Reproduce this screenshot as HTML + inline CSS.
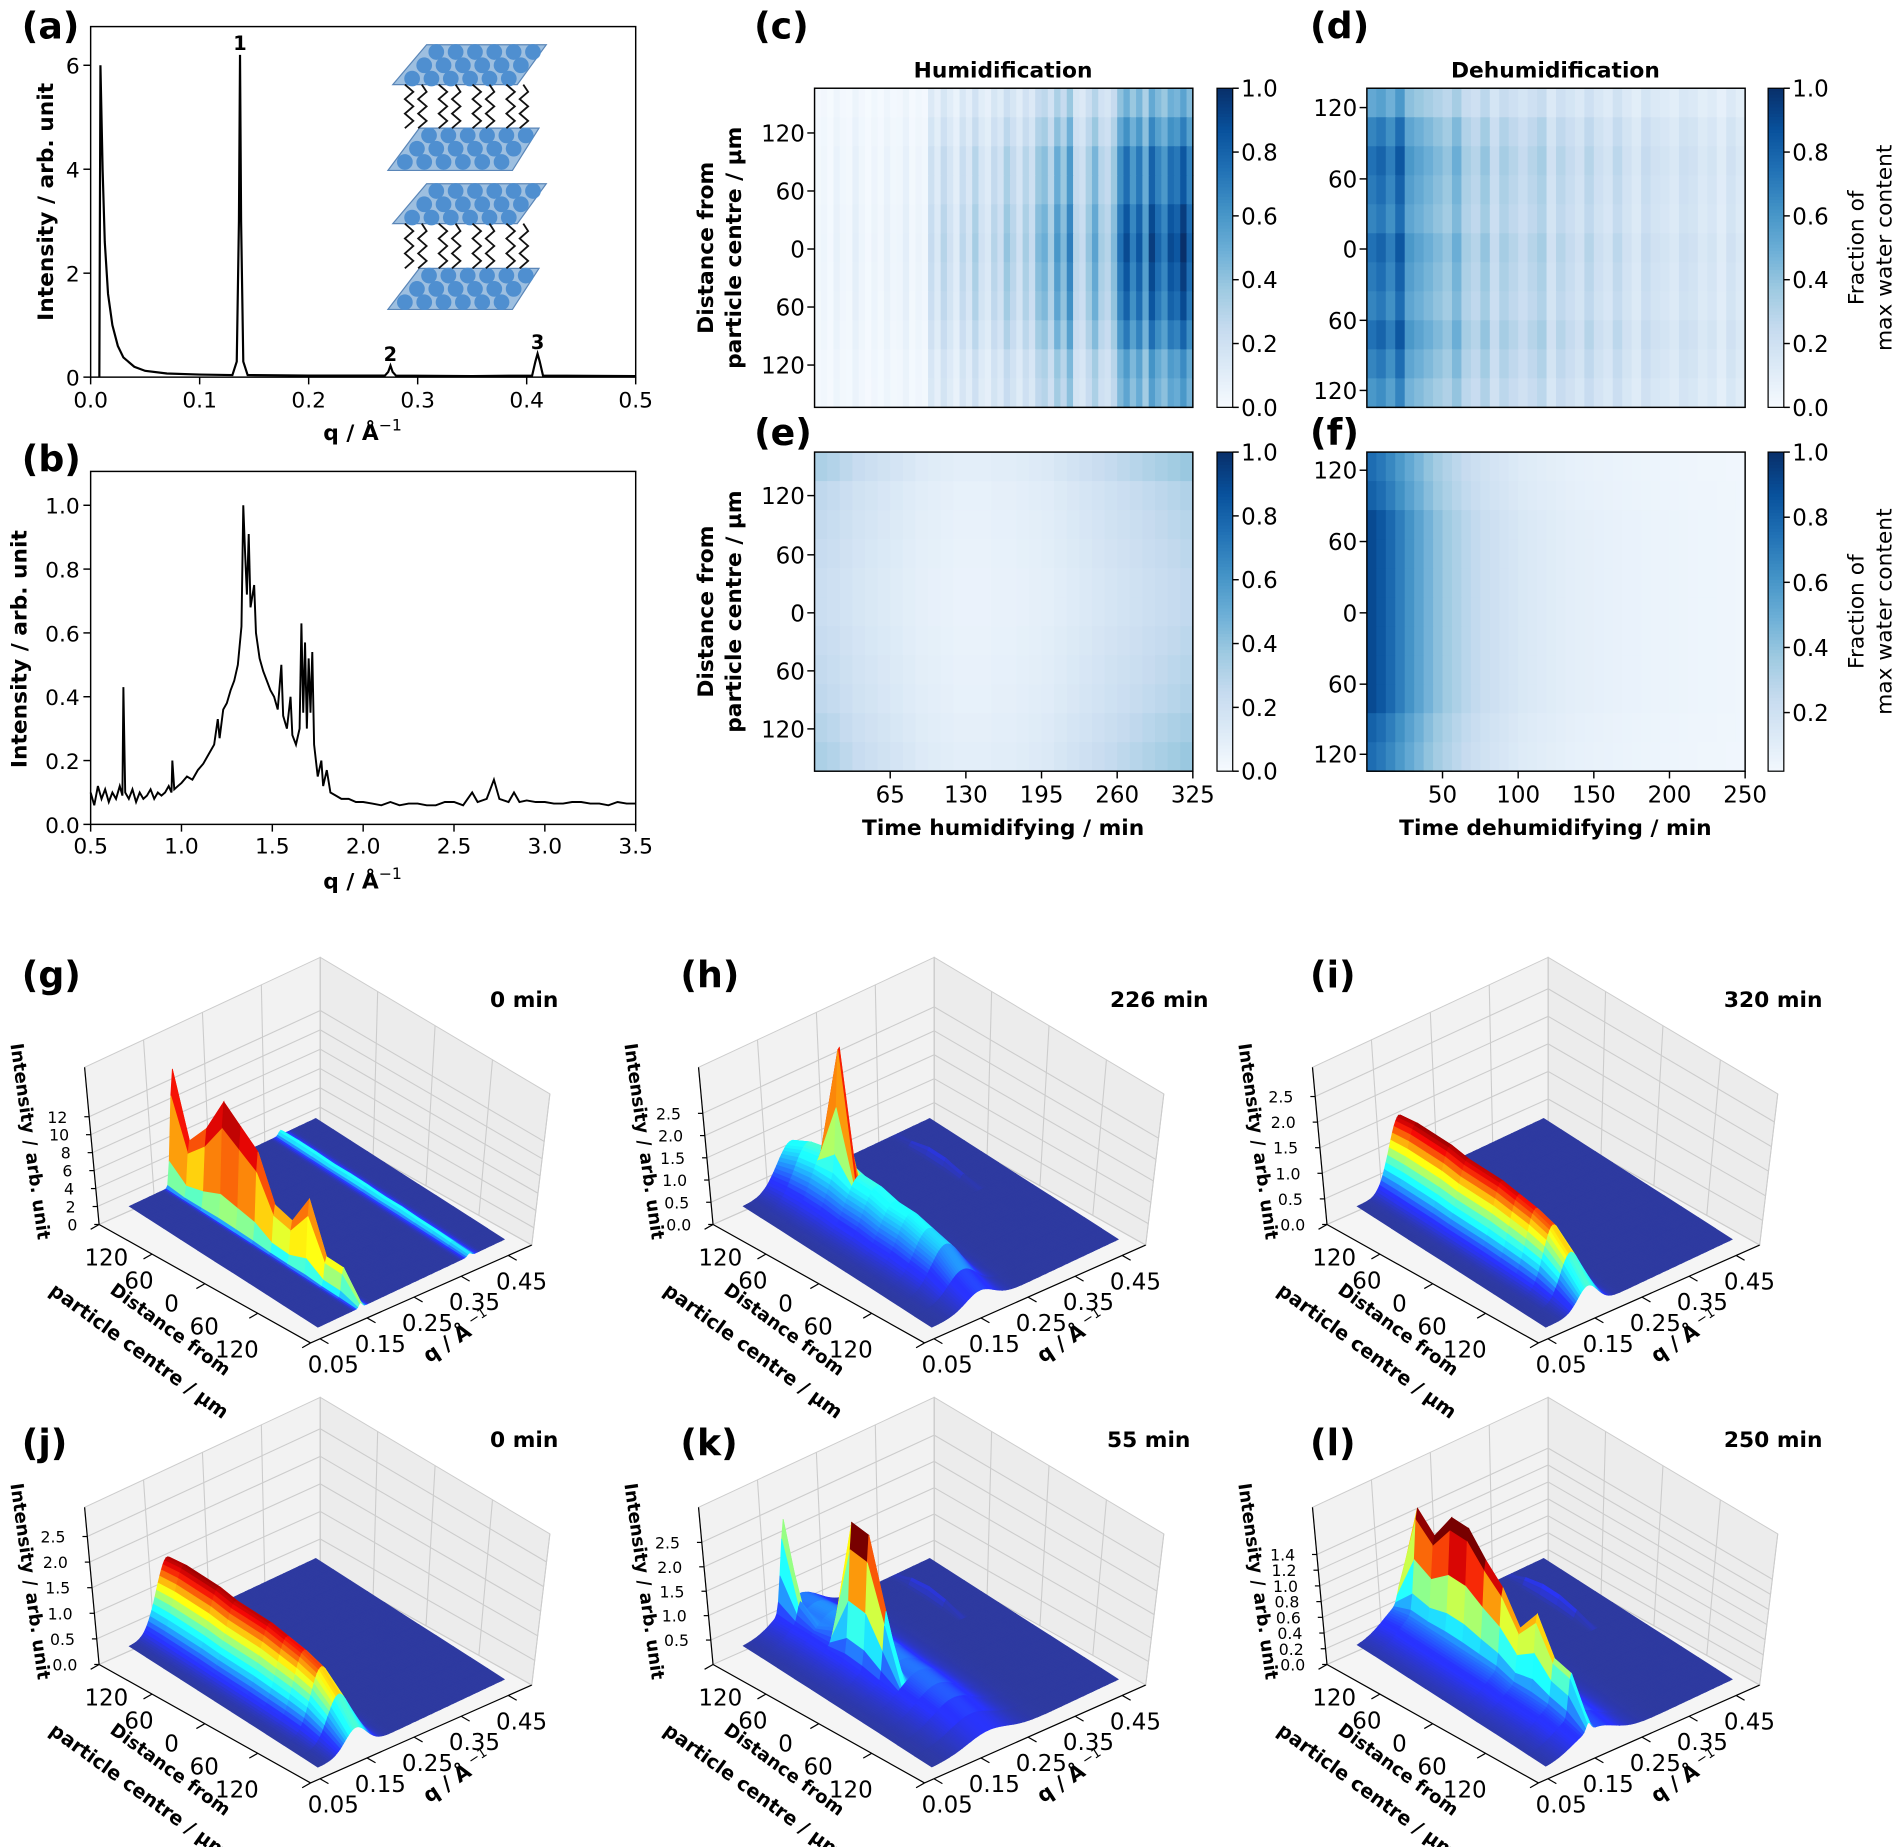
<!DOCTYPE html>
<html><head><meta charset="utf-8"><style>
html,body{margin:0;padding:0;background:#fff;}
svg{display:block;font-family:"DejaVu Sans","Liberation Sans",sans-serif;}
.t{font-size:18px;fill:#000;}
.b{font-weight:bold;}
</style></head><body>
<svg id="fig" xmlns="http://www.w3.org/2000/svg" width="1895" height="1847" viewBox="0 0 1568 1528" preserveAspectRatio="none">
<rect width="1568" height="1528" fill="#fff"/>
<g id="static">
<text x="18" y="32" class="b" font-size="30">(a)</text>
<text x="18" y="390" class="b" font-size="30">(b)</text>
<text x="624" y="32" class="b" font-size="30">(c)</text>
<text x="1084" y="32" class="b" font-size="30">(d)</text>
<text x="624" y="368" class="b" font-size="30">(e)</text>
<text x="1084" y="368" class="b" font-size="30">(f)</text>
<text x="18" y="817" class="b" font-size="30">(g)</text>
<text x="563" y="817" class="b" font-size="30">(h)</text>
<text x="1084" y="817" class="b" font-size="30">(i)</text>
<text x="18" y="1204" class="b" font-size="30">(j)</text>
<text x="563" y="1204" class="b" font-size="30">(k)</text>
<text x="1084" y="1204" class="b" font-size="30">(l)</text>
<text transform="translate(44,167) rotate(-90)" text-anchor="middle" class="t b" font-size="19">Intensity / arb. unit</text>
<text transform="translate(22,537) rotate(-90)" text-anchor="middle" class="t b" font-size="19">Intensity / arb. unit</text>
<text x="300" y="364" text-anchor="middle" class="t b" font-size="19">q / Å<tspan dy="-8" font-size="13" font-weight="normal">−1</tspan></text>
<text x="300" y="735" text-anchor="middle" class="t b" font-size="19">q / Å<tspan dy="-8" font-size="13" font-weight="normal">−1</tspan></text>
<text x="830" y="64" text-anchor="middle" class="t b" font-size="19">Humidification</text>
<text x="1287" y="64" text-anchor="middle" class="t b" font-size="19">Dehumidification</text>
<text transform="translate(590,205) rotate(-90)" text-anchor="middle" class="t b" font-size="19">Distance from</text>
<text transform="translate(613,205) rotate(-90)" text-anchor="middle" class="t b" font-size="19">particle centre / µm</text>
<text transform="translate(590,506) rotate(-90)" text-anchor="middle" class="t b" font-size="19">Distance from</text>
<text transform="translate(613,506) rotate(-90)" text-anchor="middle" class="t b" font-size="19">particle centre / µm</text>
<text transform="translate(1542,205) rotate(-90)" text-anchor="middle" class="t" font-size="19">Fraction of</text>
<text transform="translate(1565,205) rotate(-90)" text-anchor="middle" class="t" font-size="19">max water content</text>
<text transform="translate(1542,506) rotate(-90)" text-anchor="middle" class="t" font-size="19">Fraction of</text>
<text transform="translate(1565,506) rotate(-90)" text-anchor="middle" class="t" font-size="19">max water content</text>
<text x="830" y="691" text-anchor="middle" class="t b" font-size="19">Time humidifying / min</text>
<text x="1287" y="691" text-anchor="middle" class="t b" font-size="19">Time dehumidifying / min</text>
<text x="462" y="833" text-anchor="end" class="t b" font-size="20">0 min</text>
<text x="1000" y="833" text-anchor="end" class="t b" font-size="20">226 min</text>
<text x="1508" y="833" text-anchor="end" class="t b" font-size="20">320 min</text>
<text x="462" y="1197" text-anchor="end" class="t b" font-size="20">0 min</text>
<text x="985" y="1197" text-anchor="end" class="t b" font-size="20">55 min</text>
<text x="1508" y="1197" text-anchor="end" class="t b" font-size="20">250 min</text>
</g>
<g id="plots"></g>
</svg>
<script>
// ---------- data ----------
const aQ = [0.008,0.009,0.011,0.013,0.016,0.02,0.025,0.03,0.04,0.05,0.07,0.1,0.13,0.134,0.136,0.137,0.138,0.14,0.144,0.2,0.27,0.273,0.275,0.277,0.28,0.35,0.405,0.408,0.41,0.412,0.415,0.5];
const aI = [0,6,4,2.6,1.6,1,0.6,0.38,0.2,0.12,0.07,0.05,0.04,0.3,3,6.2,3,0.3,0.04,0.03,0.03,0.1,0.22,0.1,0.03,0.02,0.03,0.3,0.45,0.3,0.03,0.02];
const aXTicks = [0,0.1,0.2,0.3,0.4,0.5];
const aXLabels = ["0.0","0.1","0.2","0.3","0.4","0.5"];
const aYTicks = [0,2,4,6];
const bQ = [0.50,0.52,0.54,0.56,0.58,0.60,0.62,0.64,0.66,0.675,0.68,0.69,0.71,0.73,0.75,0.77,0.79,0.81,0.83,0.85,0.87,0.89,0.91,0.93,0.945,0.95,0.96,0.98,1.00,1.03,1.06,1.09,1.12,1.15,1.18,1.20,1.21,1.23,1.25,1.27,1.29,1.31,1.33,1.34,1.35,1.36,1.37,1.38,1.40,1.41,1.43,1.45,1.47,1.49,1.51,1.53,1.55,1.56,1.58,1.60,1.61,1.63,1.65,1.66,1.67,1.68,1.69,1.70,1.71,1.72,1.73,1.75,1.77,1.78,1.80,1.82,1.85,1.88,1.92,1.96,2.0,2.05,2.1,2.15,2.2,2.25,2.3,2.35,2.4,2.45,2.5,2.55,2.6,2.63,2.68,2.72,2.75,2.8,2.83,2.86,2.9,2.95,3.0,3.05,3.1,3.15,3.2,3.25,3.3,3.35,3.4,3.45,3.5];
const bI = [0.10,0.06,0.12,0.08,0.11,0.07,0.10,0.08,0.12,0.09,0.43,0.10,0.08,0.11,0.07,0.10,0.08,0.09,0.11,0.08,0.10,0.09,0.10,0.12,0.10,0.20,0.11,0.12,0.13,0.15,0.14,0.17,0.19,0.22,0.25,0.33,0.27,0.36,0.38,0.42,0.45,0.50,0.62,1.0,0.85,0.72,0.91,0.68,0.75,0.60,0.52,0.48,0.45,0.42,0.40,0.36,0.50,0.34,0.30,0.40,0.28,0.25,0.30,0.63,0.35,0.57,0.30,0.52,0.35,0.54,0.25,0.15,0.20,0.12,0.17,0.10,0.09,0.08,0.08,0.07,0.07,0.065,0.06,0.07,0.06,0.065,0.065,0.06,0.06,0.07,0.07,0.06,0.10,0.07,0.08,0.14,0.08,0.07,0.10,0.07,0.075,0.07,0.07,0.065,0.065,0.07,0.07,0.065,0.065,0.06,0.07,0.065,0.065];
const bXTicks = [0.5,1.0,1.5,2.0,2.5,3.0,3.5];
const bYTicks = [0,0.2,0.4,0.6,0.8,1.0];
// heatmaps
const cCols = [0.03,0.05,0.02,0.08,0.04,0.03,0.1,0.05,0.02,0.06,0.03,0.08,0.04,0.05,0.1,0.03,0.06,0.04,0.25,0.15,0.3,0.2,0.12,0.28,0.18,0.35,0.2,0.15,0.3,0.22,0.4,0.3,0.2,0.35,0.25,0.45,0.5,0.35,0.6,0.45,0.7,0.3,0.25,0.4,0.55,0.35,0.3,0.45,0.75,0.9,0.7,0.85,0.6,0.95,0.8,0.7,0.9,0.85,1.0,0.8];
const cRows = [0.55,0.7,0.85,0.85,0.95,1.0,0.95,0.9,0.8,0.65,0.6];
const dCols = [0.75,0.8,0.7,0.85,0.6,0.55,0.5,0.45,0.4,0.5,0.35,0.3,0.4,0.25,0.35,0.3,0.25,0.3,0.35,0.2,0.3,0.25,0.2,0.3,0.22,0.18,0.28,0.2,0.15,0.25,0.2,0.18,0.15,0.22,0.2,0.15,0.18,0.12,0.2,0.15];
const dRows = [0.7,0.9,1,0.95,0.9,1,0.95,0.9,1,0.9,0.8];
const eCols = [0.3,0.28,0.25,0.22,0.2,0.18,0.16,0.14,0.12,0.11,0.1,0.09,0.09,0.09,0.1,0.1,0.11,0.12,0.13,0.15,0.17,0.19,0.21,0.23,0.25,0.27,0.29,0.31,0.33,0.35];
const eRows = [1.1,0.9,0.85,0.8,0.75,0.75,0.8,0.85,0.9,1.0,1.1];
const fCols = [0.9,0.85,0.78,0.7,0.62,0.55,0.48,0.42,0.37,0.33,0.29,0.26,0.23,0.21,0.19,0.17,0.15,0.14,0.13,0.12,0.11,0.1,0.095,0.09,0.085,0.08,0.075,0.07,0.068,0.065,0.062,0.06,0.058,0.055,0.052,0.05,0.048,0.046,0.044,0.042];
const fRows = [0.85,0.9,1,1,1,1,1,1,1,0.9,0.85];
const distLabels = ["120","60","0","60","120"];
const eXTicks = [65,130,195,260,325];
const fXTicks = [50,100,150,200,250];
const cbTicks = [0,0.2,0.4,0.6,0.8,1.0];
// 3D surfaces: narrow peak amplitudes & broad hump amplitudes per distance row
const gNarrow = [12.5,6,8.5,12.5,11,9.5,5,4.5,8,3,3,0.5];
const gHump = [0,0,0,0,0,0,0,0,0,0,0,0];
const gLine3 = [0.5,0.6,0.6,0.5,0.6,0.6,0.5,0.6,0.5,0.5,0.4,0.3];
const hNarrow = [0,0,0,2.6,0,0,0,0,0,0,0,0];
const hHump = [0.9,1.1,1.2,1.2,1.1,1.1,1.0,1.0,0.9,0.8,0.5,0.3];
const hLine3 = [0,0.1,0.2,0.2,0.1,0,0,0,0,0,0,0];
const iNarrow = [0,0,0,0,0,0,0,0,0,0,0,0];
const iHump = [1.3,1.35,1.35,1.35,1.3,1.3,1.3,1.25,1.2,1.1,0.8,0.4];
const iLine3 = [0,0,0,0,0,0,0,0,0,0,0,0];
const jNarrow = [0,0,0,0,0,0,0,0,0,0,0,0];
const jHump = [1.3,1.35,1.35,1.35,1.3,1.3,1.3,1.25,1.2,1.1,0.8,0.4];
const jLine3 = [0,0,0,0,0,0,0,0,0,0,0,0];
const kNarrow = [1.7,0.3,0,0.2,2.4,2.4,1.2,0,0,0,0,0];
const kHump = [0.5,0.55,0.6,0.6,0.6,0.55,0.5,0.5,0.45,0.4,0.3,0.2];
const kLine3 = [0,0.15,0.2,0.15,0,0,0,0,0,0,0,0];
const lNarrow = [0.2,1.2,1.0,1.35,1.35,1.1,0.9,0.6,0.9,0.5,0.5,0.1];
const lHump = [0.3,0.35,0.35,0.35,0.35,0.35,0.35,0.3,0.3,0.3,0.25,0.2];
const lLine3 = [0,0.1,0.15,0.15,0.1,0,0,0,0,0,0,0];
const gZTicks = [0,2,4,6,8,10,12];
const hZTicks = [0,0.5,1,1.5,2,2.5];
const kZTicks = [0.5,1,1.5,2,2.5];
const lZTicks = [0,0.2,0.4,0.6,0.8,1.0,1.2,1.4];
const qTickVals = [0.05,0.15,0.25,0.35,0.45];

// ---------- helpers ----------
const NS = "http://www.w3.org/2000/svg";
const root = document.getElementById('plots');
function mk(tag, parent){ const e=document.createElementNS(NS,tag); (parent||root).appendChild(e); return e; }
function grp(name){ const g=mk('g');   return g; }
function txt(parent, x, y, s, anchor, size){ const t=mk('text',parent); t.setAttribute('x',x); t.setAttribute('y',y); t.setAttribute('text-anchor',anchor||'middle'); t.setAttribute('font-size',size||18); t.textContent=s; return t; }
function line(parent,x1,y1,x2,y2,col,w){ const l=mk('line',parent); l.setAttribute('x1',x1);l.setAttribute('y1',y1);l.setAttribute('x2',x2);l.setAttribute('y2',y2);l.setAttribute('stroke',col||'#000');l.setAttribute('stroke-width',w||1.2); return l; }
const BLUES=[[247,251,255],[222,235,247],[198,219,239],[158,202,225],[107,174,214],[66,146,198],[33,113,181],[8,81,156],[8,48,107]];
function blues(t){ t=Math.max(0,Math.min(1,t)); const p=t*8, i=Math.min(7,Math.floor(p)), f=p-i; const a=BLUES[i],b=BLUES[i+1]; return 'rgb('+[0,1,2].map(k=>Math.round(a[k]+(b[k]-a[k])*f)).join(',')+')'; }
function cl(v){return Math.max(0,Math.min(1,v));}
function jet(t){ t=cl(t); const r=cl(1.5-Math.abs(4*t-3)), g=cl(1.5-Math.abs(4*t-2)), b=cl(1.5-Math.abs(4*t-1));
  return 'rgb('+Math.round(Math.min(255,r*240+46*(1-t)))+','+Math.round(Math.min(255,g*240+58*(1-t)))+','+Math.round(Math.min(255,b*240+40*(1-t)))+')'; }

// ---------- panel (a) ----------
(function(){
  const g=grp('panel-a');
  const X=q=>75+q*902, Y=v=>312-v*43;
  const ins=mk('g',g);
  
  
  const layers=[[37,70,353,452,325,428],[106,141,347,446,321,424],[152,185,353,452,325,428],[222,256,347,446,321,424]];
  layers.forEach((L,k)=>{
    const p=mk('polygon',ins);
    p.setAttribute('points',`${L[2]},${L[0]} ${L[3]},${L[0]} ${L[5]},${L[1]} ${L[4]},${L[1]}`);
    p.setAttribute('fill','#9dbfe0');p.setAttribute('stroke','#5a86b8');
    
    for(let r=0;r<3;r++){for(let c=0;c<6;c++){
      const cy=L[0]+6+r*11, cx=L[2]-r*10+8+c*16;
      const ci=mk('circle',ins); ci.setAttribute('cx',cx); ci.setAttribute('cy',cy); ci.setAttribute('r',6.5); ci.setAttribute('fill','#4f8fd0');
    }}
  });
  [[70,106],[185,222]].forEach(([y0,y1])=>{
    for(let c=0;c<8;c++){
      const x0=335+c*14; let d=`M${x0},${y0}`; const n=6;
      for(let s=1;s<=n;s++){ d+=` L${x0+(s%2?7:0)+ (c%2?-3:0)},${y0+(y1-y0)*s/n}`; }
      const p=mk('path',ins); p.setAttribute('d',d); p.setAttribute('fill','none'); p.setAttribute('stroke','#111'); p.setAttribute('stroke-width',1.5);
    }
  });
  const path=mk('path',g);
  
  
  path.setAttribute('d',aQ.map((q,i)=>(i?'L':'M')+X(q).toFixed(1)+','+Y(aI[i]).toFixed(1)).join(''));
  path.setAttribute('fill','none');path.setAttribute('stroke','#000');path.setAttribute('stroke-width',1.8);
  const fr=mk('rect',g); fr.setAttribute('x',75);fr.setAttribute('y',22);fr.setAttribute('width',451);fr.setAttribute('height',290);fr.setAttribute('fill','none');fr.setAttribute('stroke','#000');fr.setAttribute('stroke-width',1.2);
  
  aXTicks.forEach((t,i)=>{ line(g,X(t),312,X(t),318); txt(g,X(t),337,aXLabels[i]); });
  aYTicks.forEach(t=>{ line(g,69,Y(t),75,Y(t)); txt(g,66,Y(t)+7,String(t),'end'); });
  const pk=[['1',0.137,6.2],['2',0.275,0.22],['3',0.41,0.45]];
  pk.forEach(p=>{ const t=txt(g,X(p[1]),Y(p[2])-4,p[0],'middle',16); t.setAttribute('font-weight','bold'); });
})();

// ---------- panel (b) ----------
(function(){
  const g=grp('panel-b');
  const X=q=>75+(q-0.5)*150.33, Y=v=>682-v*264;
  const path=mk('path',g);
  
  
  path.setAttribute('d',bQ.map((q,i)=>(i?'L':'M')+X(q).toFixed(1)+','+Y(bI[i]).toFixed(1)).join(''));
  path.setAttribute('fill','none');path.setAttribute('stroke','#000');path.setAttribute('stroke-width',1.6);
  const fr=mk('rect',g); fr.setAttribute('x',75);fr.setAttribute('y',390);fr.setAttribute('width',451);fr.setAttribute('height',292);fr.setAttribute('fill','none');fr.setAttribute('stroke','#000');fr.setAttribute('stroke-width',1.2);
  
  bXTicks.forEach(t=>{ line(g,X(t),682,X(t),688); txt(g,X(t),706,t.toFixed(1)); });
  bYTicks.forEach(t=>{ line(g,69,Y(t),75,Y(t)); txt(g,66,Y(t)+7,t.toFixed(1),'end'); });
})();

// ---------- heatmaps ----------
function heatmap(name, x0,y0,w,h, cols, rows, cbX, yTickYs, xTicks, xMax, cbTickList, cbMin){
  const g=grp(name);
  const cw=w/cols.length, rh=h/rows.length;
  rows.forEach((rf,r)=>{ cols.forEach((cv,c)=>{
    const rc=mk('rect',g);
    
    
    rc.setAttribute('x',(x0+c*cw).toFixed(2)); rc.setAttribute('y',(y0+r*rh).toFixed(2));
    rc.setAttribute('width',(cw+0.6).toFixed(2)); rc.setAttribute('height',(rh+0.6).toFixed(2));
    rc.setAttribute('fill',blues(cv*rf));
  });});
  const fr=mk('rect',g); fr.setAttribute('x',x0);fr.setAttribute('y',y0);fr.setAttribute('width',w);fr.setAttribute('height',h);fr.setAttribute('fill','none');fr.setAttribute('stroke','#000');fr.setAttribute('stroke-width',1.2);
  yTickYs.forEach((yy,i)=>{ line(g,x0-6,yy,x0,yy); txt(g,x0-8,yy+7,distLabels[i],'end',19); });
  if(xTicks){ xTicks.forEach(t=>{ const xx=x0+t/xMax*w; line(g,xx,y0+h,xx,y0+h+6); txt(g,xx,y0+h+26,String(t),'middle',19); }); }
  const cb=mk('g',g);
  
  
  for(let i=0;i<100;i++){ const rc=mk('rect',cb); rc.setAttribute('x',cbX); rc.setAttribute('y',(y0+i*h/100).toFixed(2)); rc.setAttribute('width',13); rc.setAttribute('height',(h/100+0.6).toFixed(2)); rc.setAttribute('fill',blues(cbMin+(1-cbMin)*(1-i/100))); }
  const cf=mk('rect',cb); cf.setAttribute('x',cbX);cf.setAttribute('y',y0);cf.setAttribute('width',13);cf.setAttribute('height',h);cf.setAttribute('fill','none');cf.setAttribute('stroke','#000');cf.setAttribute('stroke-width',1);
  cbTickList.forEach(t=>{ const yy=y0+h-(t-cbMin)/(1-cbMin)*h; line(cb,cbX+13,yy,cbX+18,yy); txt(cb,cbX+20,yy+7,t.toFixed(1),'start',19); });
}
heatmap('heatmap-c',674,73,313,264,cCols,cRows,1007,[110,158,206,254,302],null,0,cbTicks,0);
heatmap('heatmap-d',1131,73,313,264,dCols,dRows,1463,[89,148,206,265,323],null,0,cbTicks,0);
heatmap('heatmap-e',674,374,313,264,eCols,eRows,1007,[410,459,507,555,603],eXTicks,325,cbTicks,0);
heatmap('heatmap-f',1131,374,313,264,fCols,fRows,1463,[389,448,507,566,624],fXTicks,250,[0.2,0.4,0.6,0.8,1.0],0.02);

// ---------- 3D panels ----------
function surface(name, ox, oy, narrow, hump, line3, nc, nw, hc, hw, ppu, cmax, gamma, zTicks, zFmt){
  const g=grp(name);
  const P=(x,y)=>[x+ox,y+oy];
  const Lb=P(82,1013), Bb=P(265,932), Rb=P(440,1030), Fb=P(257,1111), H=140;
  const pg=(pts,fill,nm)=>{ const p=mk('polygon',g); p.setAttribute('points',pts.map(a=>a[0].toFixed(1)+','+a[1].toFixed(1)).join(' ')); p.setAttribute('fill',fill); p.setAttribute('stroke','#ccc'); p.setAttribute('stroke-width',0.8);  return p; };
  pg([Lb,Bb,[Bb[0],Bb[1]-H],[Lb[0]-12,Lb[1]-H+10]],'#f2f2f2','left-pane');
  pg([Bb,Rb,[Rb[0]+15,Rb[1]-H+15],[Bb[0],Bb[1]-H]],'#ececec','right-pane');
  pg([Lb,Bb,Rb,Fb],'#f5f5f5','floor-pane');
  for(let i=0;i<=4;i++){ const f=i/4;
    const a=[Lb[0]+(Bb[0]-Lb[0])*f, Lb[1]+(Bb[1]-Lb[1])*f]; line(g,a[0],a[1],a[0]-12*(1-f),a[1]-H+10*(1-f),'#ccc',0.9);
    const b=[Bb[0]+(Rb[0]-Bb[0])*f, Bb[1]+(Rb[1]-Bb[1])*f]; line(g,b[0],b[1],b[0]+15*f,b[1]-H+15*f,'#ccc',0.9);
  }
  zTicks.forEach(z=>{ const dy=z*ppu;
    line(g,Lb[0]-12*dy/H,Lb[1]-dy+10*dy/H,Bb[0],Bb[1]-dy,'#ccc',0.9);
    line(g,Bb[0],Bb[1]-dy,Rb[0]+15*dy/H,Rb[1]-dy+15*dy/H,'#ccc',0.9);
  });
  line(g,Lb[0],Lb[1],Lb[0]-12,Lb[1]-H+10,'#000',1);
  line(g,Lb[0],Lb[1],Fb[0],Fb[1],'#000',1);
  line(g,Fb[0],Fb[1],Rb[0],Rb[1],'#000',1);
  zTicks.forEach(z=>{ const dy=z*ppu, x=Lb[0]-12*dy/H, y=Lb[1]-dy+10*dy/H; line(g,x-4,y,x,y,'#000',1); txt(g,x-18,y+5,zFmt(z),'end',13); });
  for(let i=0;i<5;i++){ const f=i/4; const x=Lb[0]+(Fb[0]-Lb[0])*f, y=Lb[1]+(Fb[1]-Lb[1])*f; line(g,x,y,x-7,y+4,'#000',1);
    txt(g,ox+88+27*i,oy+1047+19*i,distLabels[i],'middle',19); }
  qTickVals.forEach(q=>{ const f=(q-0.03)/0.47; const x=Fb[0]+(Rb[0]-Fb[0])*f, y=Fb[1]+(Rb[1]-Fb[1])*f; line(g,x,y,x+7,y+4,'#000',1); txt(g,x+11,y+28,q.toFixed(2),'middle',19); });
  const t1=txt(g,0,0,'Intensity / arb. unit','middle',15); t1.setAttribute('font-weight','bold'); t1.setAttribute('transform',`translate(${ox+20},${oy+945}) rotate(82)`);
  const t2=txt(g,0,0,'Distance from','middle',15); t2.setAttribute('font-weight','bold'); t2.setAttribute('transform',`translate(${ox+138},${oy+1104}) rotate(36)`);
  const t3=txt(g,0,0,'particle centre / µm','middle',16); t3.setAttribute('font-weight','bold'); t3.setAttribute('transform',`translate(${ox+112},${oy+1122}) rotate(36)`);
  const t4=txt(g,0,0,'q / Å','middle',17); t4.setAttribute('font-weight','bold'); t4.setAttribute('transform',`translate(${ox+373},${oy+1116}) rotate(-33)`);
  const t5=txt(g,0,0,'−1','middle',11); t5.setAttribute('transform',`translate(${ox+397},${oy+1092}) rotate(-33)`);
  const Ld=P(107,998), Bd=P(262,925), Fd=P(263,1098);
  const proj=(u,v,z)=>[Ld[0]+u*(Bd[0]-Ld[0])+v*(Fd[0]-Ld[0]), Ld[1]+u*(Bd[1]-Ld[1])+v*(Fd[1]-Ld[1])-z*ppu];
  const nR=narrow.length, qs=[];
  for(let q=0.03;q<=0.5001;q+=0.004) qs.push(q);
  const gau=(q,c,w)=>Math.exp(-0.5*((q-c)/w)*((q-c)/w));
  const I=(q,r)=>narrow[r]*gau(q,nc,nw)+hump[r]*gau(q,hc,hw)+line3[r]*gau(q,0.41,0.005);
  const Z=qs.map(q=>narrow.map((_,r)=>I(q,r)));
  const quads=[];
  for(let r=0;r<nR-1;r++){ for(let k=0;k<qs.length-1;k++){
    const u0=(qs[k]-0.03)/0.47, u1=(qs[k+1]-0.03)/0.47, v0=r/(nR-1), v1=(r+1)/(nR-1);
    const z00=Z[k][r],z10=Z[k+1][r],z11=Z[k+1][r+1],z01=Z[k][r+1];
    const pts=[proj(u0,v0,z00),proj(u1,v0,z10),proj(u1,v1,z11),proj(u0,v1,z01)];
    const zm=(z00+z10+z11+z01)/4;
    const depth=Ld[1]-73*(u0+u1)/2+100*(v0+v1)/2;
    quads.push([depth,pts,zm]);
  }}
  quads.sort((a,b)=>a[0]-b[0]);
  const sg=mk('g',g);
  
  
  quads.forEach(qd=>{ const p=mk('polygon',sg); const c=jet(Math.pow(Math.min(1,qd[2]/cmax),gamma));
    p.setAttribute('points',qd[1].map(a=>a[0].toFixed(1)+','+a[1].toFixed(1)).join(' ')); p.setAttribute('fill',c); p.setAttribute('stroke',c); p.setAttribute('stroke-width',0.6); });
}
const f0=z=>String(z), f1=z=>z.toFixed(1);
surface('surface-g',0,0,gNarrow,gHump,gLine3,0.137,0.004,0.14,0.03,8,13,0.3,gZTicks,f0);
surface('surface-h',508,0,hNarrow,hHump,hLine3,0.14,0.005,0.15,0.035,39.6,2.7,1,hZTicks,f1);
surface('surface-i',1016,0,iNarrow,iHump,iLine3,0.137,0.005,0.135,0.025,45.6,1.4,1,hZTicks,f1);
surface('surface-j',0,364,jNarrow,jHump,jLine3,0.137,0.005,0.125,0.027,45.6,1.4,1,hZTicks,f1);
surface('surface-k',508,364,kNarrow,kHump,kLine3,0.13,0.006,0.17,0.05,43.5,2.5,1,kZTicks,f1);
surface('surface-l',1016,364,lNarrow,lHump,lLine3,0.137,0.006,0.15,0.05,70,1.4,1,lZTicks,f1);
</script>
</body></html>
